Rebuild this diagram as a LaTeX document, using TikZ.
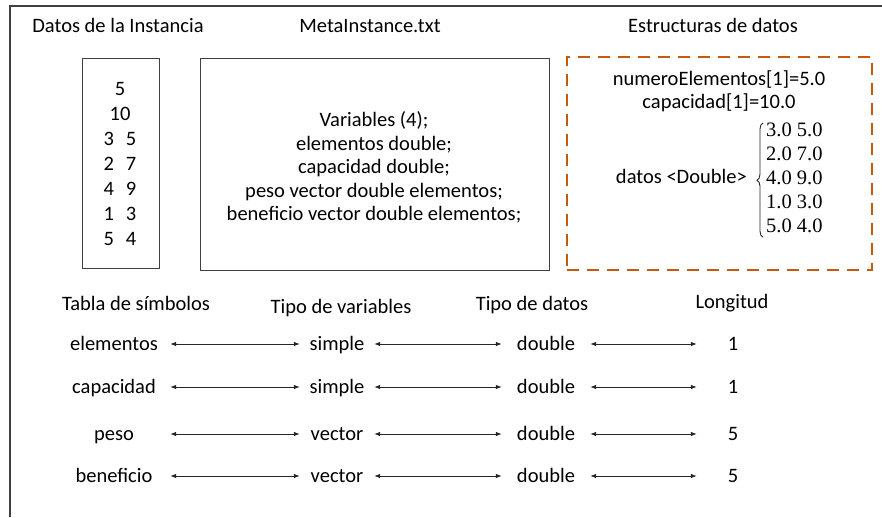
\documentclass[tikz,border=0pt]{standalone}
\usepackage{fontspec}
\setmainfont{Carlito}
\newfontfamily\numfont{Liberation Serif}
\usetikzlibrary{arrows.meta,decorations.pathreplacing}
\definecolor{framegray}{HTML}{404040}
\definecolor{dashorange}{HTML}{C55A11}
\begin{document}
\begin{tikzpicture}[x=1pt,y=-1pt,
  txt/.style={font=\fontsize{20.5}{24}\selectfont, inner sep=0pt},
  cell/.style={txt, text height=15pt, text depth=3pt, minimum height=18pt},
  box/.style={draw=framegray, line width=1pt, inner sep=0pt},
  conn/.style={{Latex[length=6pt,width=4.5pt]}-{Latex[length=6pt,width=4.5pt]}, line width=0.8pt, black!85}]
\fill[white] (0,0) rectangle (882,517);
\useasboundingbox (0,0) rectangle (882,517);
% outer frame
\draw[framegray, line width=1.2pt] (10,517) -- (10,6) -- (882,6);
% titles
\node[txt, anchor=base] (t1) at (118,32) {Datos de la Instancia};
\node[txt, anchor=base] (t2) at (370,32) {MetaInstance.txt};
\node[txt, anchor=base] (t3) at (713,32) {Estructuras de datos};
% instance box
\node[box, minimum width=77pt, minimum height=210pt] (inst) at (120.5,163) {};
\node[txt, align=center, font=\fontsize{20.5}{25}\selectfont] (insttxt) at (120,163.5) {5\\10\\3\hspace{12pt}5\\2\hspace{12pt}7\\4\hspace{12pt}9\\1\hspace{12pt}3\\5\hspace{12pt}4};
% meta box
\node[box, minimum width=349pt, minimum height=212pt] (meta) at (374.5,164) {};
\node[txt, align=center, font=\fontsize{20.5}{23.5}\selectfont] (metatxt) at (374,167.5) {Variables (4);\\elementos double;\\capacidad double;\\peso vector double elementos;\\beneficio vector double elementos;};
% structures box
\node[draw=dashorange, line width=2.6pt, dash pattern=on 12pt off 8pt, minimum width=305pt, minimum height=213pt, inner sep=0pt] (est) at (719.5,163.5) {};
\node[txt, anchor=base] (ne) at (719,85) {numeroElementos[1]=5.0};
\node[txt, anchor=base] (cp) at (719,108) {capacidad[1]=10.0};
\node[txt, anchor=base east] (dt) at (747,183) {datos <Double>};
\node[font=\numfont\fontsize{20.5}{24}\selectfont, align=left, inner sep=0pt, anchor=north west] (nums) at (766,123) {3.0 5.0\\2.0 7.0\\4.0 9.0\\1.0 3.0\\5.0 4.0};
\draw[decorate, decoration={brace, amplitude=6pt}, line width=0.9pt, black!85]
  ([xshift=-3pt,yshift=-4pt]nums.south west) -- ([xshift=-3pt]nums.north west);
% headers
\node[txt, anchor=base] (h1) at (136,310) {Tabla de símbolos};
\node[txt, anchor=base] (h2) at (341,313) {Tipo de variables};
\node[txt, anchor=base] (h3) at (532,310) {Tipo de datos};
\node[txt, anchor=base] (h4) at (732,308) {Longitud};
% rows
\node[cell, minimum width=112pt] (s1) at (114,344) {elementos};
\node[cell, minimum width=74pt] (v1) at (337,344) {simple};
\node[cell, minimum width=88pt] (d1) at (546,344) {double};
\node[cell, minimum width=72pt] (l1) at (733,344) {1};
\node[cell, minimum width=112pt] (s2) at (114,387) {capacidad};
\node[cell, minimum width=74pt] (v2) at (337,387) {simple};
\node[cell, minimum width=88pt] (d2) at (546,387) {double};
\node[cell, minimum width=72pt] (l2) at (733,387) {1};
\node[cell, minimum width=112pt] (s3) at (114,434) {peso};
\node[cell, minimum width=74pt] (v3) at (337,434) {vector};
\node[cell, minimum width=88pt] (d3) at (546,434) {double};
\node[cell, minimum width=72pt] (l3) at (733,434) {5};
\node[cell, minimum width=112pt] (s4) at (114,476) {beneficio};
\node[cell, minimum width=74pt] (v4) at (337,476) {vector};
\node[cell, minimum width=88pt] (d4) at (546,476) {double};
\node[cell, minimum width=72pt] (l4) at (733,476) {5};
\foreach \i in {1,...,4}{
  \draw[conn] (s\i.east) -- (v\i.west);
  \draw[conn] (v\i.east) -- (d\i.west);
  \draw[conn] (d\i.east) -- (l\i.west);
}
\end{tikzpicture}
\end{document}
